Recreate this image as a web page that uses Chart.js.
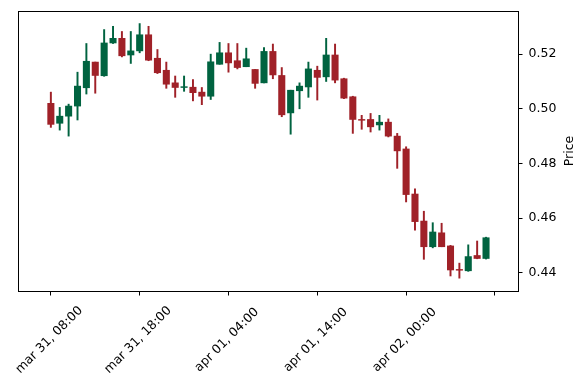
<!DOCTYPE html>
<html><head><meta charset="utf-8">
<script src="https://cdn.jsdelivr.net/npm/chart.js@4/dist/chart.umd.min.js"></script>
<style>html,body{margin:0;padding:0;background:#fff;}canvas{display:block;}</style>
</head><body>
<canvas id="c" width="587" height="390"></canvas>
<script>
const opens = [0.5020,0.4947,0.4973,0.5010,0.5077,0.5171,0.5121,0.5241,0.5258,0.5197,
  0.5212,0.5271,0.5185,0.5141,0.5095,0.5078,0.5079,0.5061,0.5046,0.5163,
  0.5205,0.5176,0.5154,0.5144,0.5095,0.5210,0.5122,0.4985,0.5066,0.5080,
  0.5141,0.5117,0.5197,0.5110,0.5044,0.4961,0.4961,0.4941,0.4951,0.4900,
  0.4853,0.4688,0.4589,0.4495,0.4546,0.4498,0.4411,0.4407,0.4463,0.4452];
const highs = [0.5061,0.5005,0.5017,0.5134,0.5239,0.5171,0.5290,0.5302,0.5283,0.5283,
  0.5312,0.5302,0.5217,0.5171,0.5120,0.5120,0.5107,0.5078,0.5200,0.5243,
  0.5239,0.5239,0.5222,0.5144,0.5224,0.5237,0.5151,0.5068,0.5095,0.5171,
  0.5156,0.5258,0.5237,0.5112,0.5046,0.4976,0.4983,0.4976,0.4963,0.4910,
  0.4861,0.4707,0.4625,0.4583,0.4581,0.4500,0.4435,0.4502,0.4516,0.4530];
const lows = [0.4932,0.4922,0.4900,0.4959,0.5054,0.5057,0.5119,0.5239,0.5190,0.5166,
  0.5205,0.5176,0.5129,0.5075,0.5042,0.5064,0.5029,0.5015,0.5034,0.5163,
  0.5134,0.5146,0.5154,0.5075,0.5095,0.5110,0.4971,0.4907,0.5000,0.5042,
  0.5032,0.5100,0.5095,0.5037,0.4910,0.4925,0.4915,0.4922,0.4897,0.4782,
  0.4659,0.4556,0.4449,0.4491,0.4495,0.4388,0.4380,0.4405,0.4451,0.4450];
const closes = [0.4943,0.4973,0.5010,0.5083,0.5174,0.5122,0.5241,0.5258,0.5194,0.5212,
  0.5271,0.5178,0.5132,0.5090,0.5078,0.5081,0.5059,0.5046,0.5172,0.5205,
  0.5168,0.5151,0.5183,0.5093,0.5210,0.5124,0.4978,0.5068,0.5083,0.5146,
  0.5115,0.5197,0.5105,0.5039,0.4961,0.4958,0.4934,0.4951,0.4900,0.4846,
  0.4686,0.4587,0.4495,0.4549,0.4495,0.4410,0.4409,0.4459,0.4452,0.4528];
const xTickIndex = [0,10,20,30,40,50];
const xTickLabels = ['mar 31, 08:00','mar 31, 18:00','apr 01, 04:00','apr 01, 14:00','apr 02, 00:00',''];
const yTicks = [0.44,0.46,0.48,0.50,0.52];
const yLabel = 'Price';

const UP = '#006340', DOWN = '#a02128';
const colors = opens.map((o,i)=> closes[i] >= o ? UP : DOWN);
const wickData = opens.map((o,i)=>({x:i, y:[lows[i], highs[i]]}));
const bodyData = opens.map((o,i)=>({x:i, y:[Math.min(o,closes[i]), Math.max(o,closes[i])]}));
const FONT = {family:'"DejaVu Sans", sans-serif', size:12.5};
const FONT_CSS = '12.5px "DejaVu Sans", sans-serif';

const bgPlugin = {id:'bg', beforeDraw(c){const x=c.ctx; x.save(); x.fillStyle='#fff'; x.fillRect(0,0,c.width,c.height); x.restore();}};
const framePlugin = {id:'frame', afterDraw(c){
  const a=c.chartArea, x=c.ctx, sx=c.scales.x;
  x.save(); x.strokeStyle='#000'; x.lineWidth=1;
  x.strokeRect(Math.round(a.left)+0.5, Math.round(a.top)+0.5, Math.round(a.right-a.left), Math.round(a.bottom-a.top));
  x.fillStyle='#000'; x.font=FONT_CSS; x.textAlign='center'; x.textBaseline='middle';
  xTickIndex.forEach((v,k)=>{
    const t = xTickLabels[k]; if(!t) return;
    const px = sx.getPixelForValue(v);
    x.save(); x.translate(px-1.5, a.bottom+49); x.rotate(-Math.PI/4); x.fillText(t,0,0); x.restore();
  });
  x.translate(a.right+52, (a.top+a.bottom)/2); x.rotate(-Math.PI/2); x.fillText(yLabel,0,0);
  x.restore();
}};

new Chart(document.getElementById('c'), {
  type:'bar',
  data:{datasets:[
    {data:wickData, backgroundColor:colors, barThickness:1.3, grouped:false, order:2, borderWidth:0},
    {data:bodyData, backgroundColor:colors, barThickness:6.4, grouped:false, order:1, borderWidth:0, minBarLength:0.8}
  ]},
  options:{
    responsive:false, animation:false,
    layout:{padding:{left:18, top:11, right:0, bottom:0}},
    plugins:{legend:{display:false}, tooltip:{enabled:false}},
    scales:{
      x:{type:'linear', min:-3.7, max:52.6, offset:false,
        afterBuildTicks(s){ s.ticks = xTickIndex.map(v=>({value:v})); },
        afterFit(s){ s.height = 99; s.paddingLeft = 0; s.paddingRight = 0; },
        border:{display:false},
        grid:{drawOnChartArea:false, offset:false, color:'#000', tickLength:4.5},
        ticks:{display:false}
      },
      y:{type:'linear', position:'right', min:0.4333, max:0.5358,
        afterBuildTicks(s){ s.ticks = yTicks.map(v=>({value:v})); },
        afterFit(s){ s.width = 69; s.paddingTop = 0; s.paddingBottom = 0; },
        border:{display:false},
        grid:{drawOnChartArea:false, offset:false, color:'#000', tickLength:4.5},
        ticks:{padding:6, color:'#000', font:FONT, callback(v){ return v.toFixed(2); }}
      }
    }
  },
  plugins:[bgPlugin, framePlugin]
});
</script>
</body></html>
